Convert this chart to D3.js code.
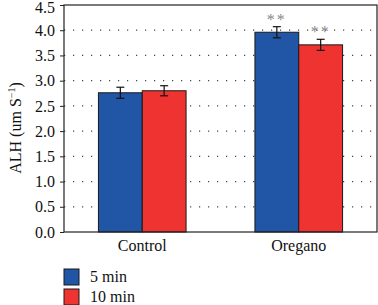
<!DOCTYPE html>
<html>
<head>
<meta charset="utf-8">
<script src="https://cdn.jsdelivr.net/npm/d3@7"></script>
<style>
  body { margin: 0; background: #fff; }
  svg text { font-family: "Liberation Serif", "Times New Roman", serif; fill: #111; }
</style>
</head>
<body>
<div id="chart"></div>
<script>
// data
const groups = ["Control", "Oregano"];
const series = ["5 min", "10 min"];
const colors = ["#2155a6", "#ee3330"];
const values5 = [2.76, 3.96];
const values10 = [2.80, 3.71];
const err5 = [0.11, 0.11];
const err10 = [0.10, 0.11];
const stars5 = ["", "**"];
const stars10 = ["", "**"];
const yTicks = [0, 0.5, 1, 1.5, 2, 2.5, 3, 3.5, 4, 4.5];

let W = 378, H = 305;
let margin = {top: 5, right: 1, bottom: 73, left: 64};
let width = W - margin.left - margin.right;
let height = H - margin.top - margin.bottom;

let svg = d3.select("#chart").append("svg")
    .attr("width", W)
    .attr("height", H);

let g = svg.append("g")
    .attr("transform", `translate(${margin.left},${margin.top})`);

let x = d3.scaleBand().domain(groups).range([0, width]);
let x1 = d3.scaleBand().domain(series).range([0, x.bandwidth() * 0.56]);
let y = d3.scaleLinear().domain([0, 4.5]).range([height, 0]);

// dotted grid lines
g.selectAll(".grid")
    .data(yTicks.filter(d => d > 0 && d < 4.5))
    .enter().append("line")
    .attr("x1", 0).attr("x2", width)
    .attr("y1", d => y(d)).attr("y2", d => y(d))
    .attr("stroke", "#444")
    .attr("stroke-width", 1.2)
    .attr("stroke-dasharray", "1.2 7.8");

// bars
let rows = [];
groups.forEach((gr, i) => {
    rows.push({group: gr, s: 0, v: values5[i], e: err5[i], star: stars5[i]});
    rows.push({group: gr, s: 1, v: values10[i], e: err10[i], star: stars10[i]});
});

let off = x.bandwidth() * 0.22;
let bx = d => x(d.group) + off + x1(series[d.s]);

g.selectAll(".bar")
    .data(rows)
    .enter().append("rect")
    .attr("x", d => bx(d))
    .attr("width", x1.bandwidth())
    .attr("y", d => y(d.v))
    .attr("height", d => y(0) - y(d.v))
    .attr("fill", d => colors[d.s])
    .attr("stroke", "#1a1a1a")
    .attr("stroke-width", 1);

// error bars
let cx = d => bx(d) + x1.bandwidth() / 2;
let eb = g.selectAll(".err").data(rows).enter().append("g").attr("stroke", "#111").attr("stroke-width", 1.2);
eb.append("line").attr("x1", cx).attr("x2", cx).attr("y1", d => y(d.v + d.e)).attr("y2", d => y(d.v - d.e));
eb.append("line").attr("x1", d => cx(d) - 4).attr("x2", d => cx(d) + 4).attr("y1", d => y(d.v + d.e)).attr("y2", d => y(d.v + d.e));
eb.append("line").attr("x1", d => cx(d) - 4).attr("x2", d => cx(d) + 4).attr("y1", d => y(d.v - d.e)).attr("y2", d => y(d.v - d.e));

// significance stars
g.selectAll(".star")
    .data(rows.filter(d => d.star))
    .enter().append("text")
    .attr("x", cx)
    .attr("y", d => y(d.v + d.e) - 2)
    .attr("text-anchor", "middle")
    .style("font-size", "16px")
    .style("letter-spacing", "2px")
    .style("fill", "#888")
    .text(d => d.star);

// frame
g.append("rect")
    .attr("width", width).attr("height", height)
    .attr("fill", "none").attr("stroke", "#222").attr("stroke-width", 1.2);

// y axis
let yAxis = g.append("g")
    .call(d3.axisLeft(y).tickValues(yTicks).tickFormat(d3.format(".1f")).tickSize(4).tickPadding(5));
yAxis.select(".domain").remove();
yAxis.selectAll("line").attr("stroke", "#222");
yAxis.selectAll("text")
    .style("font-size", "16px")
    .style("font-family", "Liberation Serif, serif")
    .attr("fill", "#111")
    .attr("dy", d => d === 4.5 ? "0.45em" : "0.32em");

// x axis labels
g.selectAll(".xl")
    .data(groups)
    .enter().append("text")
    .attr("x", d => x(d) + x.bandwidth() / 2)
    .attr("y", height + 19)
    .attr("text-anchor", "middle")
    .style("font-size", "16px")
    .text(d => d);

// y label
svg.append("text")
    .attr("transform", `translate(21,128) rotate(-90)`)
    .attr("text-anchor", "middle")
    .style("font-size", "16px")
    .html('ALH (um S<tspan dy="-6" font-size="10px">−1</tspan><tspan dy="6">)</tspan>');

// legend
let leg = svg.selectAll(".leg")
    .data(series)
    .enter().append("g")
    .attr("transform", (d, i) => `translate(64,${269 + i * 20})`);
leg.append("rect")
    .attr("width", 15).attr("height", 16)
    .attr("fill", (d, i) => colors[i])
    .attr("stroke", "#1a1a1a").attr("stroke-width", 1);
leg.append("text")
    .attr("x", 26).attr("y", 13)
    .style("font-size", "16px")
    .text(d => d);
</script>
</body>
</html>
